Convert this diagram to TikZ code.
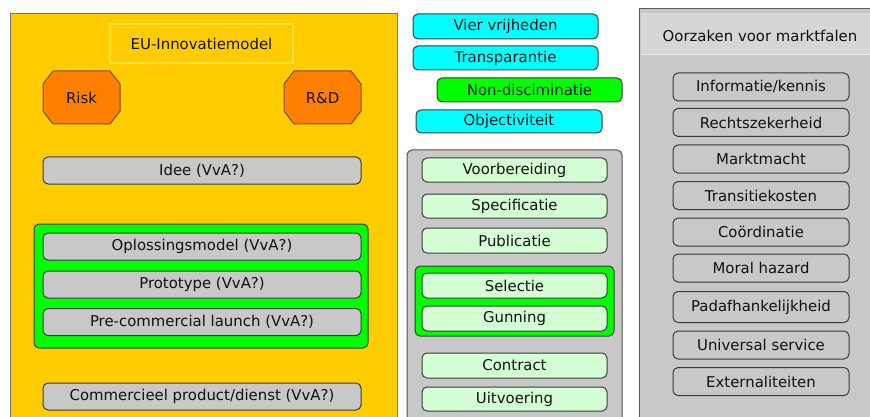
\documentclass[tikz,border=0pt]{standalone}
\usepackage{fontspec}
\setmainfont{DejaVu Sans}
\definecolor{cYellow}{HTML}{FFCC00}
\definecolor{cYellowLine}{HTML}{FFDF3A}
\definecolor{cOrange}{HTML}{FF7F00}
\definecolor{cGray}{HTML}{C8C8C8}
\definecolor{cBand}{HTML}{D6D6D6}
\definecolor{cGreen}{HTML}{00FF00}
\definecolor{cCyan}{HTML}{00FFFF}
\definecolor{cLight}{HTML}{D4FFD4}
\definecolor{cLine}{HTML}{3A3A3A}
\definecolor{cText}{HTML}{111111}
\begin{document}
\begin{tikzpicture}[x=1pt,y=-1pt,
  every node/.style={font=\fontsize{14.9}{17}\selectfont, text=cText},
  rbox/.style={draw=cLine, line width=1pt, rounded corners=5pt, inner sep=0pt, minimum width=#1},
  graybox/.style={rbox=318pt, fill=cGray, minimum height=27pt},
  cyanbox/.style={rbox=185pt, fill=cCyan, minimum height=24pt},
  lightbox/.style={rbox=185pt, fill=cLight, minimum height=24pt},
  causebox/.style={rbox=176pt, fill=cGray, minimum height=28pt},
  groupbox/.style={draw=cLine, line width=1pt, rounded corners=5pt, fill=cGreen, inner sep=0pt},
  octo/.style={fill=cOrange, draw=cLine!70!cOrange, line width=1pt}
]
\useasboundingbox (0,0) rectangle (870,417);
\clip (0,0) rectangle (870,417);
\fill[white] (0,0) rectangle (870,417);

% left panel
\draw[fill=cYellow, draw=gray!90!black, line width=1pt] (10,14) rectangle (397,440);
\node[fill=cYellow, draw=cYellowLine, line width=1.5pt, minimum width=183pt, minimum height=39pt, inner sep=0pt] (eu) at (201.5,43.5) {EU-Innovatiemodel};
\draw[octo] (53,71) -- (110,71) -- (120,84) -- (120,111) -- (110,124) -- (53,124) -- (43,111) -- (43,84) -- cycle;
\node (risk) at (81.5,98) {Risk};
\draw[octo] (294,71) -- (351,71) -- (361,84) -- (361,111) -- (351,124) -- (294,124) -- (284,111) -- (284,84) -- cycle;
\node (rd) at (322.5,98) {R\&D};
\node[graybox] (idee) at (202,170.5) {Idee (VvA?)};
\node[groupbox, minimum width=334pt, minimum height=124pt] (grpL) at (201,286) {};
\node[graybox] (opl) at (202,246.5) {Oplossingsmodel (VvA?)};
\node[graybox] (proto) at (202,284.5) {Prototype (VvA?)};
\node[graybox] (pre) at (202,322) {Pre-commercial launch (VvA?)};
\node[graybox] (comm) at (202,396.5) {Commercieel product/dienst (VvA?)};

% middle column
\node[cyanbox, minimum height=25pt] (vier) at (505.5,26.5) {Vier vrijheden};
\node[cyanbox] (trans) at (505.5,58) {Transparantie};
\node[cyanbox, fill=cGreen] (nond) at (529.5,90) {Non-disciminatie};
\node[cyanbox, minimum width=186pt, minimum height=23pt] (obj) at (509,121.5) {Objectiviteit};
\draw[fill=cGray, draw=cLine!90!white, line width=1pt, rounded corners=5pt] (407,150) rectangle (622,440);
\node[lightbox] (voor) at (514.5,170) {Voorbereiding};
\node[lightbox] (spec) at (514.5,206) {Specificatie};
\node[lightbox, minimum height=25pt] (pub) at (514.5,240.5) {Publicatie};
\node[groupbox, minimum width=199pt, minimum height=70pt] (grpM) at (514.5,301) {};
\node[lightbox, minimum height=25pt] (sel) at (514.5,285.5) {Selectie};
\node[lightbox, minimum height=25pt] (gun) at (514.5,318.5) {Gunning};
\node[lightbox, minimum height=25pt] (con) at (514.5,365.5) {Contract};
\node[lightbox] (uit) at (514.5,399) {Uitvoering};

% right panel
\draw[fill=cGray, draw=gray!70!black, line width=1pt] (639,9) rectangle (890,440);
\fill[cBand] (641,13) rectangle (890,54);
\draw[white!92!black, line width=0.8pt] (641,54) -- (890,54);
\node (oorz) at (760,36) {Oorzaken voor marktfalen};
\node[causebox] (info) at (761,87) {Informatie/kennis};
\node[causebox] (recht) at (761,122.5) {Rechtszekerheid};
\node[causebox] (markt) at (761,159) {Marktmacht};
\node[causebox] (trk) at (761,195.5) {Transitiekosten};
\node[causebox] (coord) at (761,232) {Coördinatie};
\node[causebox] (moral) at (761,268) {Moral hazard};
\node[causebox, minimum height=31pt] (pad) at (761,307) {Padafhankelijkheid};
\node[causebox] (univ) at (761,345) {Universal service};
\node[causebox] (ext) at (761,381.5) {Externaliteiten};
\end{tikzpicture}
\end{document}
